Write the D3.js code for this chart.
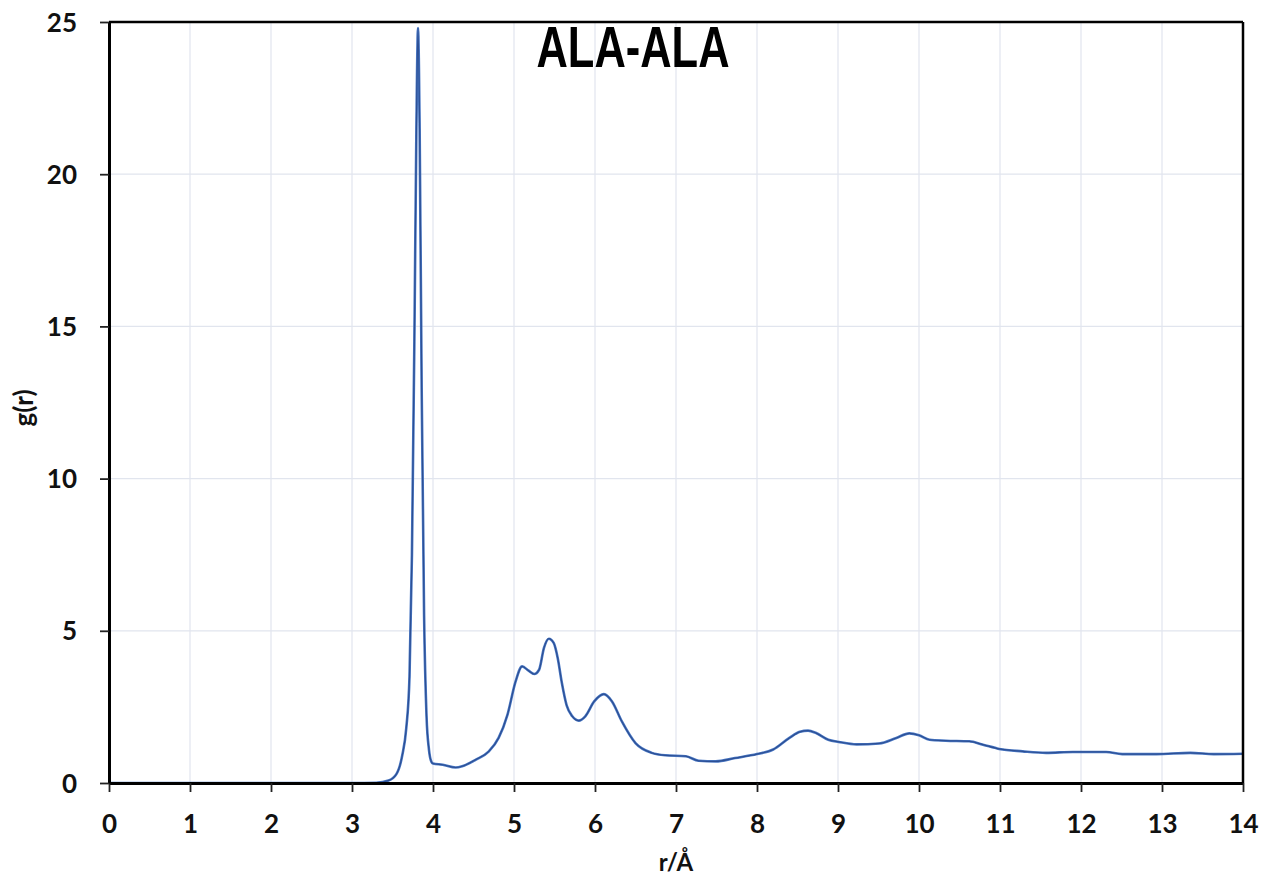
<!DOCTYPE html>
<html>
<head>
<meta charset="utf-8">
<script src="https://cdn.jsdelivr.net/npm/d3@7"></script>
<style>
  html, body { margin: 0; padding: 0; background: #fff; }
  svg { display: block; }
</style>
</head>
<body>
<svg id="chart" width="1263" height="875"></svg>
<script>
// ---- data ----
const chartTitle = "ALA-ALA";
const xLabel = "r/Å";
const yLabel = "g(r)";
const xTicks = [0,1,2,3,4,5,6,7,8,9,10,11,12,13,14];
const yTicks = [0,5,10,15,20,25];
const rValues = [0, 1, 2, 3, 3.3, 3.45, 3.55, 3.62, 3.67, 3.71, 3.74, 3.77, 3.795, 3.815, 3.835, 3.86, 3.89, 3.92, 3.95, 3.98, 4.0,
  4.12, 4.28, 4.36, 4.53, 4.69, 4.81, 4.92, 5.02, 5.10, 5.18, 5.25, 5.31, 5.37, 5.43, 5.49, 5.54, 5.59, 5.65, 5.72, 5.80, 5.88, 5.99, 6.11, 6.21, 6.33, 6.50, 6.70, 6.87, 7.12, 7.28, 7.49, 7.73,
  8.0, 8.2, 8.4, 8.53, 8.63, 8.73, 8.88, 9.01, 9.23, 9.51, 9.72, 9.88, 10.0, 10.13, 10.33, 10.62, 10.79, 10.99, 11.28, 11.57, 11.9, 12.31, 12.51, 12.93, 13.35, 13.64, 14.0];
const gValues = [0, 0, 0, 0, 0.01, 0.08, 0.3, 0.9, 1.8, 3.5, 7.5, 14.5, 21.5, 24.8, 21.5, 13.0, 5.5, 2.2, 1.1, 0.7, 0.64,
  0.6, 0.51, 0.55, 0.77, 1.04, 1.48, 2.25, 3.34, 3.83, 3.69, 3.58, 3.72, 4.44, 4.74, 4.6, 4.1, 3.3, 2.55, 2.19, 2.05, 2.19, 2.68, 2.92, 2.68, 2.03, 1.31, 0.99, 0.91, 0.88, 0.73, 0.71, 0.82,
  0.95, 1.10, 1.48, 1.68, 1.72, 1.64, 1.42, 1.35, 1.27, 1.30, 1.48, 1.63, 1.57, 1.42, 1.39, 1.37, 1.26, 1.12, 1.04, 0.99, 1.02, 1.02, 0.95, 0.95, 0.99, 0.95, 0.96];

// ---- layout ----
const svg = d3.select("#chart");
const pLeft = 109, pRight = 1243, pTop = 22, pBottom = 783;

const x = d3.scaleLinear().domain([0, 14]).range([pLeft, pRight]);
const y = d3.scaleLinear().domain([0, 25]).range([pBottom, pTop]);

// grid
svg.append("g").selectAll("line").data(xTicks.slice(1, -1)).join("line")
  .attr("x1", d => x(d)).attr("x2", d => x(d)).attr("y1", pTop).attr("y2", pBottom)
  .attr("stroke", "#e1e5ee").attr("stroke-width", 1.2);
svg.append("g").selectAll("line").data(yTicks.slice(1, -1)).join("line")
  .attr("x1", pLeft).attr("x2", pRight).attr("y1", d => y(d)).attr("y2", d => y(d))
  .attr("stroke", "#e1e5ee").attr("stroke-width", 1.2);

// line
const data = rValues.map((r, i) => [r, gValues[i]]);
const line = d3.line().x(d => x(d[0])).y(d => y(d[1])).curve(d3.curveMonotoneX);
svg.append("path").datum(data).attr("d", line)
  .attr("fill", "none").attr("stroke", "#4a78c4").attr("stroke-width", 2.6)
  .attr("stroke-linejoin", "round");
svg.append("path").datum(data).attr("d", line)
  .attr("fill", "none").attr("stroke", "#2c4f94").attr("stroke-width", 1.2)
  .attr("stroke-linejoin", "round");

// frame (top & right)
svg.append("line").attr("x1", pLeft).attr("x2", pRight).attr("y1", pTop).attr("y2", pTop)
  .attr("stroke", "#000").attr("stroke-width", 2.5);
svg.append("line").attr("x1", pRight).attr("x2", pRight).attr("y1", pTop).attr("y2", pBottom)
  .attr("stroke", "#000").attr("stroke-width", 2.5);

// axes
const fontFam = "Lato, 'Open Sans', sans-serif";
const xAxis = svg.append("g").attr("transform", `translate(0,${pBottom})`)
  .call(d3.axisBottom(x).tickValues(xTicks).tickFormat(d3.format("d")).tickSize(9).tickSizeOuter(0));
const yAxis = svg.append("g").attr("transform", `translate(${pLeft},0)`)
  .call(d3.axisLeft(y).tickValues(yTicks).tickFormat(d3.format("d")).tickSize(9).tickSizeOuter(0));
[xAxis, yAxis].forEach(a => {
  a.select(".domain").attr("stroke", "#000").attr("stroke-width", 3);
  a.selectAll(".tick line").attr("stroke", "#222").attr("stroke-width", 1.8);
  a.selectAll(".tick text").attr("fill", "#111")
    .style("font-family", fontFam).style("font-size", "26px").style("font-weight", "700");
});
xAxis.selectAll(".tick text").attr("dy", "0").attr("y", 50);
yAxis.selectAll(".tick text").attr("x", -32).attr("dy", "0.35em");

// titles
svg.append("text").attr("x", 633).attr("y", 67).attr("text-anchor", "middle")
  .attr("textLength", 193).attr("lengthAdjust", "spacingAndGlyphs")
  .style("font-family", "'Liberation Sans', Arial, sans-serif").style("font-weight", "700")
  .style("font-size", "58px").attr("fill", "#000").text(chartTitle);
svg.append("text").attr("x", 676).attr("y", 871).attr("text-anchor", "middle")
  .style("font-family", fontFam).style("font-weight", "700")
  .style("font-size", "24px").attr("fill", "#111").text(xLabel);
svg.append("text").attr("transform", "translate(33,408) rotate(-90)").attr("text-anchor", "middle")
  .style("font-family", fontFam).style("font-weight", "700")
  .style("font-size", "26px").attr("fill", "#111").text(yLabel);
</script>
</body>
</html>
